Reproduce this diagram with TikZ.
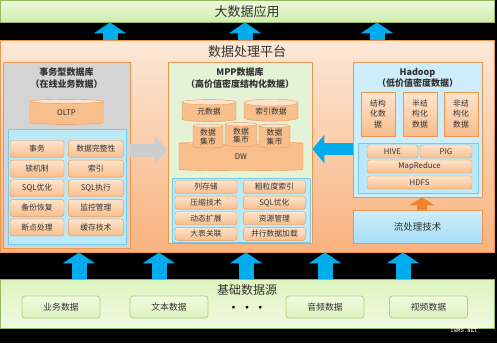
\documentclass[tikz,border=0pt]{standalone}
\usepackage{fontspec}
\setmainfont{Noto Sans CJK SC}
\usepackage{xcolor}
\usetikzlibrary{
  positioning,
  arrows.meta,
  shapes.geometric
}

\definecolor{barlight}{RGB}{238,249,222}
\definecolor{bardark}{RGB}{208,236,172}
\definecolor{barline}{RGB}{150,185,95}
\definecolor{platlight}{RGB}{252,232,215}
\definecolor{platdark}{RGB}{249,178,125}
\definecolor{orangeline}{RGB}{238,150,80}
\definecolor{graypanel}{RGB}{212,212,212}
\definecolor{greenpanel}{RGB}{228,243,214}
\definecolor{bluepanel}{RGB}{206,237,250}
\definecolor{innerfill}{RGB}{188,233,248}
\definecolor{innerline}{RGB}{120,200,232}
\definecolor{celllight}{RGB}{254,228,205}
\definecolor{celldark}{RGB}{248,190,140}
\definecolor{streamfill}{RGB}{165,222,246}
\definecolor{arrowblue}{RGB}{0,172,236}
\definecolor{arrowgray}{RGB}{205,205,205}
\definecolor{arroworange}{RGB}{245,130,40}
\definecolor{srclight}{RGB}{240,250,225}
\definecolor{srcdark}{RGB}{222,243,190}
\definecolor{srcline}{RGB}{175,205,125}
\definecolor{textdark}{RGB}{50,50,50}

\begin{document}
\begin{tikzpicture}[
  x=1pt, y=-1pt,
  font=\fontsize{7.8}{9}\selectfont,
  text=textdark,
  node distance=2.2pt and 4pt,
  bar/.style={
    rectangle,
    draw=barline,
    top color=barlight,
    bottom color=bardark,
    thick,
    inner sep=0pt
  },
  platbox/.style={
    rectangle,
    draw=orangeline,
    top color=platlight,
    bottom color=platdark,
    thick,
    inner sep=0pt
  },
  panel/.style={
    rectangle,
    draw=orangeline,
    thick,
    inner sep=0pt
  },
  inner/.style={
    rectangle,
    draw=innerline,
    fill=innerfill,
    thick,
    inner sep=0pt
  },
  techbox/.style={
    rectangle,
    rounded corners=2.5pt,
    draw=orangeline,
    top color=celllight,
    bottom color=celldark,
    inner sep=0pt
  },
  cyl/.style={
    cylinder,
    shape border rotate=90,
    aspect=0.22,
    draw=orangeline,
    cylinder uses custom fill,
    cylinder body fill=celldark,
    cylinder end fill=celllight,
    inner sep=0pt
  },
  srcbox/.style={
    rectangle,
    rounded corners=3pt,
    draw=srcline,
    top color=srclight,
    bottom color=srcdark,
    thick,
    minimum width=78,
    minimum height=22,
    inner sep=0pt,
    font=\fontsize{8.8}{10}\selectfont
  },
  title/.style={
    font=\fontsize{9}{11.5}\selectfont\bfseries,
    align=center
  },
  bluearrow/.style={
    draw=arrowblue,
    line width=15pt,
    -{Triangle[width=32pt, length=11pt]}
  },
  grayarrow/.style={
    draw=arrowgray,
    line width=13pt,
    -{Triangle[width=28pt, length=13pt]}
  },
  orangearrow/.style={
    draw=arroworange,
    line width=10pt,
    -{Triangle[width=25pt, length=8pt]}
  }
]

\fill[black] (0,0) rectangle (497,343);
\useasboundingbox (0,0) rectangle (497,343);

% Application layer
\node[bar, minimum width=494, minimum height=22] (app) at (247,11) {};
\node[font=\fontsize{13}{15}\selectfont] (apptitle) at (247,12) {大数据应用};

% Processing platform
\node[platbox, minimum width=494, minimum height=212] (plat) at (247,146) {};
\node[font=\fontsize{13}{15}\selectfont, below=2pt of plat.north] (plattitle) {数据处理平台};

% Transactional database
\node[panel, fill=graypanel, minimum width=127, minimum height=186] (tdb) at (66.5,155) {};
\node[title] (tdbtitle) at (66.5,78) {事务型数据库\\（在线业务数据）};
\node[cyl, minimum width=73, minimum height=25] (oltp) at (66.5,113) {OLTP};
\node[inner, minimum width=118, minimum height=115] (tdbin) at (67,187) {};
\node[techbox, minimum width=54, minimum height=17] (tx1) at (37,149) {事务};
\node[techbox, minimum width=55, minimum height=17, right=of tx1] (tx2) {数据完整性};
\node[techbox, minimum width=54, minimum height=17, below=of tx1] (tx3) {锁机制};
\node[techbox, minimum width=55, minimum height=17, below=of tx2] (tx4) {索引};
\node[techbox, minimum width=54, minimum height=17, below=of tx3] (tx5) {SQL优化};
\node[techbox, minimum width=55, minimum height=17, below=of tx4] (tx6) {SQL执行};
\node[techbox, minimum width=54, minimum height=17, below=of tx5] (tx7) {备份恢复};
\node[techbox, minimum width=55, minimum height=17, below=of tx6] (tx8) {监控管理};
\node[techbox, minimum width=54, minimum height=17, below=of tx7] (tx9) {断点处理};
\node[techbox, minimum width=55, minimum height=17, below=of tx8] (tx10) {缓存技术};

% MPP database
\node[panel, fill=greenpanel, minimum width=144, minimum height=181] (mpp) at (240,152.5) {};
\node[title] (mpptitle) at (240,78) {MPP数据库\\（高价值密度结构化数据）};
\node[cyl, minimum width=54, minimum height=22] (meta) at (209,112) {元数据};
\node[cyl, minimum width=54, minimum height=22] (idx) at (271,112) {索引数据};
\node[cyl, minimum width=124, minimum height=29, text depth=-6pt] (dw) at (241,157) {DW};
\node[cyl, minimum width=30, minimum height=24, align=center, font=\fontsize{7.8}{8.5}\selectfont] (mart1) at (208,137) {数据\\集市};
\node[cyl, minimum width=32, minimum height=24, align=center, font=\fontsize{7.8}{8.5}\selectfont] (mart2) at (241,135.5) {数据\\集市};
\node[cyl, minimum width=31, minimum height=24, align=center, font=\fontsize{7.8}{8.5}\selectfont] (mart3) at (274.5,137) {数据\\集市};
\node[inner, minimum width=138, minimum height=64] (mppin) at (241,210) {};
\node[techbox, minimum width=62, minimum height=13] (mp1) at (206,187) {列存储};
\node[techbox, minimum width=62, minimum height=13, right=6pt of mp1] (mp2) {粗粒度索引};
\node[techbox, minimum width=62, minimum height=13, below=of mp1] (mp3) {压缩技术};
\node[techbox, minimum width=62, minimum height=13, below=of mp2] (mp4) {SQL优化};
\node[techbox, minimum width=62, minimum height=13, below=of mp3] (mp5) {动态扩展};
\node[techbox, minimum width=62, minimum height=13, below=of mp4] (mp6) {资源管理};
\node[techbox, minimum width=62, minimum height=13, below=of mp5] (mp7) {大表关联};
\node[techbox, minimum width=62, minimum height=13, below=of mp6] (mp8) {并行数据加载};

% Hadoop
\node[panel, fill=bluepanel, minimum width=129, minimum height=135] (had) at (417.5,129.5) {};
\node[title] (hadtitle) at (417.5,78) {Hadoop\\（低价值密度数据）};
\node[panel, top color=celllight, bottom color=celldark, thin, minimum width=34, minimum height=44, align=center, font=\fontsize{7.8}{10.5}\selectfont] (st1) at (378,114) {结构\\化数\\据};
\node[panel, top color=celllight, bottom color=celldark, thin, minimum width=34, minimum height=44, align=center, font=\fontsize{7.8}{10.5}\selectfont] (st2) at (420,114) {半结\\构化\\数据};
\node[panel, top color=celllight, bottom color=celldark, thin, minimum width=34, minimum height=44, align=center, font=\fontsize{7.8}{10.5}\selectfont] (st3) at (461,114) {非结\\构化\\数据};
\node[inner, minimum width=120, minimum height=50] (hadin) at (418,168) {};
\node[techbox, minimum width=51, minimum height=13] (hive) at (392.5,151.5) {HIVE};
\node[techbox, minimum width=52, minimum height=13] (pig) at (446,151.5) {PIG};
\node[techbox, minimum width=105, minimum height=13] (mr) at (419.5,166.5) {MapReduce};
\node[techbox, minimum width=105, minimum height=13] (hdfs) at (419.5,182.5) {HDFS};

% Stream processing
\node[panel, top color=bluepanel, bottom color=streamfill, minimum width=129, minimum height=33, font=\fontsize{9.5}{11}\selectfont] (stream) at (417.5,226.5) {流处理技术};

% Data sources
\node[bar, top color=srcdark, bottom color=srclight, minimum width=494, minimum height=49] (base) at (247,303.5) {};
\node[font=\fontsize{12}{14}\selectfont] (basetitle) at (247,290) {基础数据源};
\node[srcbox] (src1) at (61,307) {业务数据};
\node[srcbox] (src2) at (169,307) {文本数据};
\node[font=\fontsize{10}{12}\selectfont\bfseries, text=black] (dots) at (247,309) {•\,\,•\,\,•};
\node[srcbox] (src3) at (325,307) {音频数据};
\node[srcbox] (src4) at (428.5,307) {视频数据};
\node[font=\fontsize{6.5}{8}\ttfamily\bfseries, text=white] (mark) at (464,331) {IWMS.NET};

% Upward flows
\draw[bluearrow] ([xshift=-137pt]plat.north) -- ([xshift=-137pt]app.south);
\draw[bluearrow] ([xshift=-2pt]plat.north) -- ([xshift=-2pt]app.south);
\draw[bluearrow] ([xshift=130pt]plat.north) -- ([xshift=130pt]app.south);
\draw[bluearrow] ([xshift=-168pt]base.north) -- ([xshift=-168pt]plat.south);
\draw[bluearrow] ([xshift=-88pt]base.north) -- ([xshift=-88pt]plat.south);
\draw[bluearrow] ([xshift=-1pt]base.north) -- ([xshift=-1pt]plat.south);
\draw[bluearrow] ([xshift=78pt]base.north) -- ([xshift=78pt]plat.south);
\draw[bluearrow] ([xshift=156pt]base.north) -- ([xshift=156pt]plat.south);

% Side flows
\draw[grayarrow] ([yshift=5pt]tdb.east) -- ([yshift=5pt]tdb.east -| mpp.west);
\draw[bluearrow, line width=12pt, -{Triangle[width=28pt, length=12pt]}] ([yshift=6pt]tdb.east -| had.west) -- ([yshift=6pt]tdb.east -| mpp.east);
\draw[orangearrow] ([xshift=4.5pt]stream.north) -- ([xshift=4.5pt]had.south);

\end{tikzpicture}
\end{document}
